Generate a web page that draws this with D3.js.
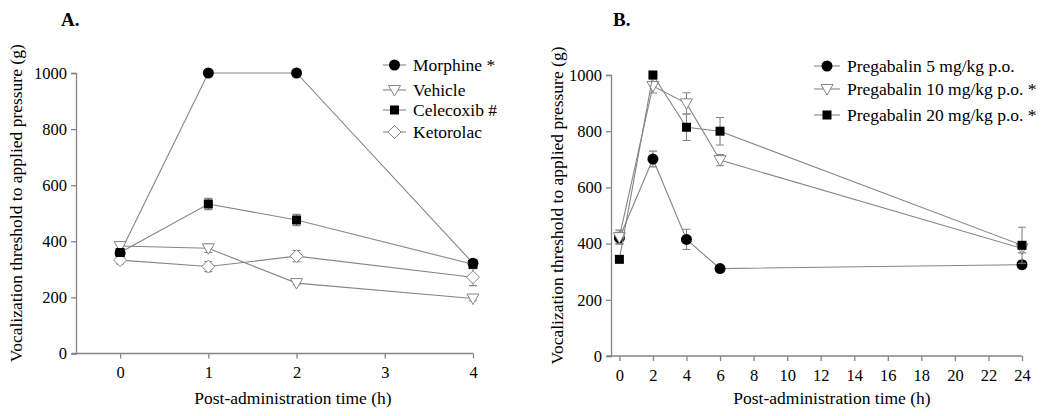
<!DOCTYPE html>
<html>
<head>
<meta charset="utf-8">
<script src="https://cdn.jsdelivr.net/npm/d3@7"></script>
<style>
  body { margin: 0; background: #fff; }
</style>
</head>
<body>
<div id="plot"></div>
<script>
// Panel A data
var timesA = [0, 1, 2, 4];
var ticksA = [0, 1, 2, 3, 4];
var morphine = [358, 1000, 1000, 322];
var morphineErr = [10, 0, 0, 12];
var vehicle = [383, 375, 251, 196];
var vehicleErr = [12, 15, 6, 8];
var celecoxib = [360, 533, 476, 318];
var celecoxibErr = [12, 20, 20, 12];
var ketorolac = [333, 310, 347, 272];
var ketorolacErr = [14, 18, 20, 30];

// Panel B data
var timesB = [0, 2, 4, 6, 24];
var ticksB = [0, 2, 4, 6, 8, 10, 12, 14, 16, 18, 20, 22, 24];
var preg5 = [420, 701, 415, 311, 325];
var preg5Err = [20, 28, 36, 10, 14];
var preg10 = [423, 961, 899, 697, 383];
var preg10Err = [25, 25, 38, 20, 16];
var preg20 = [344, 1000, 814, 800, 394];
var preg20Err = [0, 0, 47, 49, 64];

var yTicks = [0, 200, 400, 600, 800, 1000];

var grey = "#858585";
var serif = "Liberation Serif";

var svg = d3.select("#plot").append("svg")
	.attr("width", 1050)
	.attr("height", 416);

function marker(g, type, cx, cy) {
	if (type === "circle") {
		g.append("circle").attr("cx", cx).attr("cy", cy).attr("r", 5.5).attr("fill", "#000");
	} else if (type === "square") {
		g.append("rect").attr("x", cx - 4.5).attr("y", cy - 4.5).attr("width", 9).attr("height", 9).attr("fill", "#000");
	} else if (type === "triangle") {
		g.append("path")
			.attr("d", "M" + (cx - 6) + "," + (cy - 4.5) + "L" + (cx + 6) + "," + (cy - 4.5) + "L" + cx + "," + (cy + 6) + "Z")
			.attr("fill", "#fff").attr("stroke", grey).attr("stroke-width", 1);
	} else if (type === "diamond") {
		g.append("path")
			.attr("d", "M" + cx + "," + (cy - 6.5) + "L" + (cx + 6.5) + "," + cy + "L" + cx + "," + (cy + 6.5) + "L" + (cx - 6.5) + "," + cy + "Z")
			.attr("fill", "#fff").attr("stroke", grey).attr("stroke-width", 1);
	}
}

function drawPanel(opt) {
	var g = svg.append("g");
	var x = d3.scaleLinear().domain(opt.xDomain).range(opt.xRange);
	var y = d3.scaleLinear().domain([0, 1000]).range(opt.yRange);

	// axes
	var yAxis = g.append("g")
		.attr("transform", "translate(" + opt.xRange[0] + ",0)")
		.call(d3.axisLeft(y).tickValues(yTicks).tickFormat(d3.format("d")).tickSize(5).tickPadding(4));
	var xAxis = g.append("g")
		.attr("transform", "translate(0," + opt.yRange[0] + ")")
		.call(d3.axisBottom(x).tickValues(opt.ticks).tickFormat(d3.format("d")).tickSize(5).tickPadding(8));
	[xAxis, yAxis].forEach(function(a) {
		a.attr("font-family", null).attr("font-size", null);
		a.select(".domain").attr("stroke", grey).attr("stroke-width", 1.3);
		a.selectAll(".tick line").attr("stroke", grey).attr("stroke-width", 1.3);
		a.selectAll(".tick text").attr("fill", "#000")
			.attr("font-family", serif).attr("font-size", 16.5);
	});
	// the x domain line should start at the y axis and end at the last tick
	xAxis.select(".domain").attr("d", "M" + (opt.xRange[0] - 4) + ",0H" + x(opt.ticks[opt.ticks.length - 1]));

	// titles
	g.append("text")
		.attr("x", opt.titleX).attr("y", 26)
		.attr("font-family", serif).attr("font-size", 19).attr("font-weight", "bold")
		.text(opt.title);
	g.append("text")
		.attr("transform", "translate(" + opt.yTitleX + "," + ((opt.yRange[0] + opt.yRange[1]) / 2 - 10) + ") rotate(-90)")
		.attr("text-anchor", "middle")
		.attr("font-family", serif).attr("font-size", 17.5)
		.text("Vocalization threshold to applied pressure (g)");
	g.append("text")
		.attr("x", opt.xTitleX).attr("y", 404)
		.attr("text-anchor", "middle")
		.attr("font-family", serif).attr("font-size", 17.5)
		.text("Post-administration time (h)");

	var line = d3.line().x(function(d) { return x(d.t); }).y(function(d) { return y(d.v); });

	opt.series.forEach(function(s) {
		var pts = opt.times.map(function(t, i) { return {t: t, v: s.values[i], e: s.err[i]}; });
		var sg = g.append("g");
		sg.append("path").datum(pts).attr("d", line)
			.attr("fill", "none").attr("stroke", grey).attr("stroke-width", 1.1);
		pts.forEach(function(p) {
			if (p.e > 0) {
				var cx = x(p.t), y0 = y(p.v - p.e), y1 = y(p.v + p.e);
				sg.append("path")
					.attr("d", "M" + cx + "," + y0 + "V" + y1 + "M" + (cx - 4) + "," + y0 + "H" + (cx + 4) + "M" + (cx - 4) + "," + y1 + "H" + (cx + 4))
					.attr("stroke", grey).attr("stroke-width", 1.1).attr("fill", "none");
			}
		});
		pts.forEach(function(p) { marker(sg, s.type, x(p.t), y(p.v)); });
	});

	// legend
	opt.legend.forEach(function(l) {
		var lg = g.append("g");
		lg.append("line")
			.attr("x1", opt.legendX).attr("x2", opt.legendX + opt.legendLen)
			.attr("y1", l.y).attr("y2", l.y)
			.attr("stroke", grey).attr("stroke-width", 1.1);
		marker(lg, l.type, opt.legendX + opt.legendLen / 2, l.y);
		lg.append("text")
			.attr("x", opt.legendX + opt.legendLen + 7).attr("y", l.y + 6)
			.attr("font-family", serif).attr("font-size", 17.5)
			.text(l.label);
	});
}

drawPanel({
	title: "A.", titleX: 61,
	xDomain: [-0.5, 4], xRange: [76, 473],
	yRange: [353.5, 73],
	ticks: ticksA, times: timesA,
	yTitleX: 22, xTitleX: 293,
	series: [
		{type: "circle", values: morphine, err: morphineErr},
		{type: "triangle", values: vehicle, err: vehicleErr},
		{type: "diamond", values: ketorolac, err: ketorolacErr},
		{type: "square", values: celecoxib, err: celecoxibErr}
	],
	legendX: 383, legendLen: 23,
	legend: [
		{type: "circle", y: 65, label: "Morphine *"},
		{type: "triangle", y: 90, label: "Vehicle"},
		{type: "square", y: 110, label: "Celecoxib #"},
		{type: "diamond", y: 132, label: "Ketorolac"}
	]
});

drawPanel({
	title: "B.", titleX: 613,
	xDomain: [-0.5, 24], xRange: [611, 1022],
	yRange: [356, 75],
	ticks: ticksB, times: timesB,
	yTitleX: 563, xTitleX: 832,
	series: [
		{type: "circle", values: preg5, err: preg5Err},
		{type: "triangle", values: preg10, err: preg10Err},
		{type: "square", values: preg20, err: preg20Err}
	],
	legendX: 814, legendLen: 26,
	legend: [
		{type: "circle", y: 66, label: "Pregabalin 5 mg/kg p.o."},
		{type: "triangle", y: 89, label: "Pregabalin 10 mg/kg p.o. *"},
		{type: "square", y: 115, label: "Pregabalin 20 mg/kg p.o. *"}
	]
});
</script>
</body>
</html>
